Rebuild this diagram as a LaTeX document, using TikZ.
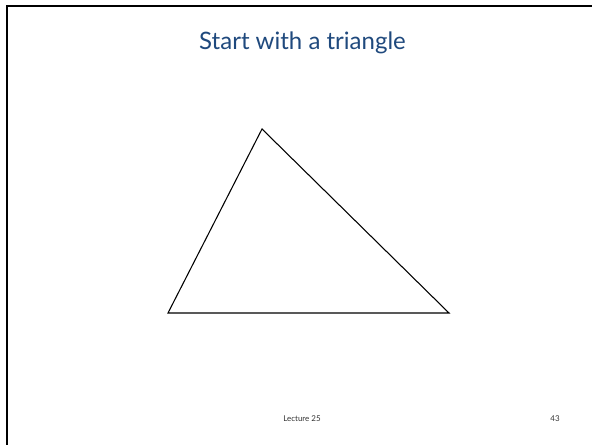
\documentclass[tikz,border=0pt]{standalone}
\usepackage{fontspec}
\setmainfont{Lato}
\usepackage{tikz}
\usetikzlibrary{positioning}
\definecolor{titleblue}{RGB}{31,73,125}

\begin{document}
\begin{tikzpicture}[x=0.75pt, y=-0.75pt,
    title/.style={font=\fontsize{18}{22}\selectfont, text=titleblue, anchor=base},
    foot/.style={font=\fontsize{6}{7}\selectfont, text=black!80},
    edge/.style={draw, line width=0.8pt, line join=miter}]
\useasboundingbox (0,0) rectangle (592,445);

% slide frame
\draw[line width=1.6pt] (592,6) -- (7,6) -- (7,445);

\node[title] (heading) at (302.5,50) {Start with a triangle};

% the triangle
\coordinate (apex)  at (262,129);
\coordinate (left)  at (168,313);
\coordinate (right) at (449,313);
\draw[edge] (left) -- (apex) -- (right) -- cycle;

\node[foot] (lecture) at (302,419) {Lecture 25};
\node[foot] (pagenum) at (555,419) {43};
\end{tikzpicture}
\end{document}
